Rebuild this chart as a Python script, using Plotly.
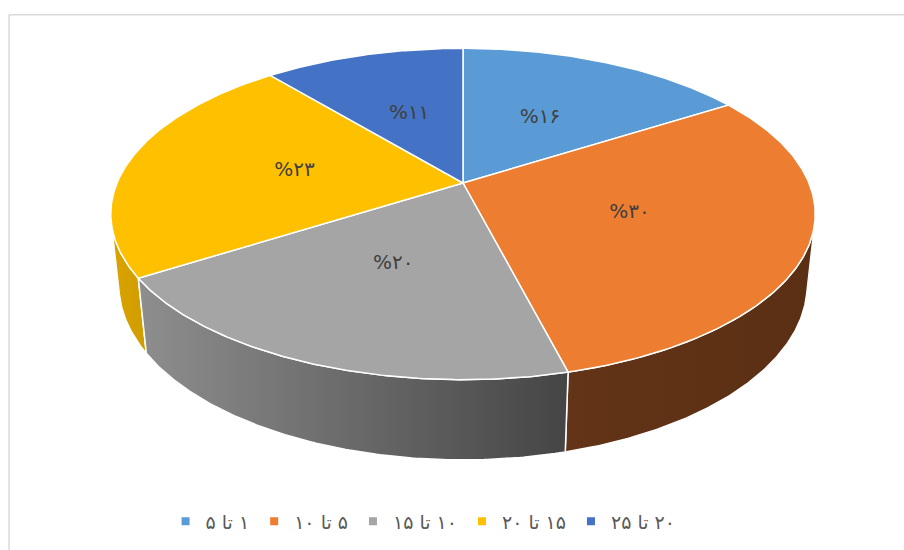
import math
import plotly.graph_objects as go

# ---- data ----
categories = ['۱ تا ۵', '۵ تا ۱۰', '۱۰ تا ۱۵', '۱۵ تا ۲۰', '۲۰ تا ۲۵']
values = [16, 30, 20, 23, 11]
top_colors = ['#5B9BD5', '#ED7D31', '#A5A5A5', '#FFC000', '#4472C4']
side_colors = [('#4A7FB0', '#3A6A98'), ('#633417', '#5A2F13'), ('#8E8E8E', '#454545'),
               ('#DAA300', '#D09C00'), ('#37609F', '#2E5088')]

PERSIAN = str.maketrans('0123456789', '۰۱۲۳۴۵۶۷۸۹')
def fa(n):
    return str(n).translate(PERSIAN)

RLM = '\u200F'

# ---- projection (3D pie, camera above front) ----
CX, CY = 463.0, 183.0
SIN_E = 0.462
COS_E = math.sqrt(1 - SIN_E ** 2)
L = 4.74
F = 1640.0
H = 0.233


def proj(theta_deg, r, z):
    t = math.radians(theta_deg)
    u = r * math.sin(t)
    v = -r * math.cos(t)
    depth = L - v * COS_E - z * SIN_E
    x = CX + F * u / depth
    y = CY - F * (-v * SIN_E + z * COS_E) / depth
    return x, y


def arc(a0, a1, r, z, n):
    pts = []
    for i in range(n + 1):
        a = a0 + (a1 - a0) * i / n
        pts.append(proj(a, r, z))
    return pts


total = sum(values)
angles = [0.0]
for v in values:
    angles.append(angles[-1] + 360.0 * v / total)

# visible outer wall: v > 1/(L cos e)
vmin = 1.0 / (L * COS_E)
vis0 = math.degrees(math.acos(-vmin))
vis1 = 360.0 - vis0

fig = go.Figure()

# walls
walls = []
for i in range(len(values)):
    a0, a1 = max(angles[i], vis0), min(angles[i + 1], vis1)
    if a1 > a0:
        walls.append((i, a0, a1))
walls.sort(key=lambda w: -abs(180 - (w[1] + w[2]) / 2))
for i, a0, a1 in walls:
    n = max(4, int((a1 - a0) * 2))
    top = arc(a0, a1, 1.0, 0.0, n)
    bot = arc(a0, a1, 1.0, -H, n)
    pts = top + bot[::-1] + [top[0]]
    fig.add_trace(go.Scatter(
        x=[p[0] for p in pts], y=[p[1] for p in pts], mode='lines',
        fill='toself', line=dict(color='white', width=1.5),
        fillgradient=dict(type='horizontal',
                          colorscale=[[0, side_colors[i][0]], [1, side_colors[i][1]]]),
        hoverinfo='skip', showlegend=False))

# top faces
for i in range(len(values)):
    a0, a1 = angles[i], angles[i + 1]
    n = max(4, int((a1 - a0) * 2))
    pts = [proj(0, 0, 0)] + arc(a0, a1, 1.0, 0.0, n) + [proj(0, 0, 0)]
    fig.add_trace(go.Scatter(
        x=[p[0] for p in pts], y=[p[1] for p in pts], mode='lines',
        fill='toself', fillcolor=top_colors[i],
        line=dict(color='white', width=1.5),
        hoverinfo='skip', showlegend=False))

# labels
lx, ly, lt = [], [], []
for i, v in enumerate(values):
    mid = (angles[i] + angles[i + 1]) / 2
    x, y = proj(mid, 0.5, 0.0)
    lx.append(x); ly.append(y); lt.append('%' + fa(v))
fig.add_trace(go.Scatter(x=lx, y=ly, text=lt, mode='text',
                         textfont=dict(family='DejaVu Sans', size=20, color='#404040'),
                         hoverinfo='skip', showlegend=False))

# legend entries
for i, name in enumerate(categories):
    fig.add_trace(go.Scatter(x=[None], y=[None], mode='markers', name=RLM + name,
                             marker=dict(symbol='square', size=8, color=top_colors[i])))

fig.update_layout(
    width=904, height=550, autosize=False,
    margin=dict(l=0, r=0, t=0, b=0),
    paper_bgcolor='white', plot_bgcolor='white',
    xaxis=dict(range=[0, 904], visible=False, fixedrange=True),
    yaxis=dict(range=[550, 0], visible=False, fixedrange=True),
    legend=dict(orientation='h', x=0.468, xanchor='center', y=0.052, yanchor='middle',
                font=dict(family='DejaVu Sans', size=19, color='#595959'),
                itemwidth=30, bgcolor='rgba(0,0,0,0)'),
    shapes=[
        dict(type='line', xref='paper', yref='paper', x0=0.01, x1=0.01, y0=0, y1=0.973,
             line=dict(color='#D9D9D9', width=1.5)),
        dict(type='line', xref='paper', yref='paper', x0=0.01, x1=1.0, y0=0.973, y1=0.973,
             line=dict(color='#D9D9D9', width=1.5)),
    ],
)

fig.write_html('out.html', config={'displayModeBar': False},
               post_script="document.body.style.margin='0';")
